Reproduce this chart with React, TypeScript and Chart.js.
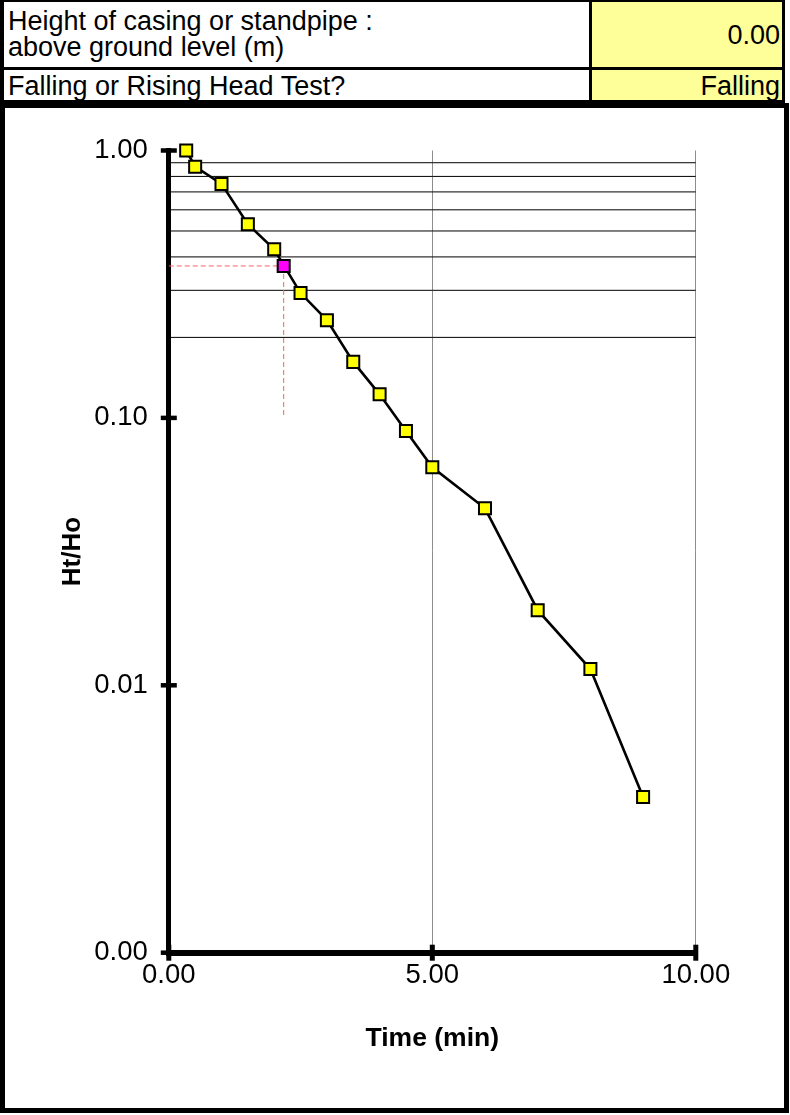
import React, { useEffect, useRef } from "react";
import { Chart, registerables } from "chart.js";

Chart.register(...registerables);

// ---- data ----
const timeMin = [0.33, 0.5, 1, 1.5, 2, 2.5, 3, 3.5, 4, 4.5, 5, 6, 7, 8, 9];
const htHo = [1.0, 0.87, 0.75, 0.53, 0.427, 0.293, 0.232, 0.162, 0.1225, 0.0893, 0.0654, 0.0459, 0.0191, 0.0115, 0.00382];
const t0Time = [2.18];
const t0Ratio = [0.37];
const dropTo = [0.1];
const refLevels = [0.9, 0.8, 0.7, 0.6, 0.5, 0.4, 0.3, 0.2];
const xTicks = [0, 5, 10];
const yTicks = [0.001, 0.01, 0.1, 1];
const xRange = [0, 10];
const yRange = [0.001, 1];
const casingLabel = ["Height of casing or standpipe :", "above ground level (m)"];
const casingValue = "0.00";
const testLabel = "Falling or Rising Head Test?";
const testValue = "Falling";
const xTitle = "Time (min)";
const yTitle = "Ht/Ho";

const FONT = "'Liberation Sans', Arial, Helvetica, sans-serif";

const crossTicks = {
  id: "crossTicks",
  afterDraw(chart: any) {
    const ctx = chart.ctx;
    const xs = chart.scales.x;
    const ys = chart.scales.y;
    const area = chart.chartArea;
    ctx.save();
    ctx.fillStyle = "#000";
    xTicks.forEach((v) => {
      const px = xs.getPixelForValue(v);
      ctx.fillRect(px - 2.5, area.bottom - 8, 5, 16);
    });
    yTicks.forEach((v) => {
      const py = ys.getPixelForValue(v);
      ctx.fillRect(area.left - 8, py - 2.25, 16, 4.5);
    });
    ctx.restore();
  },
};

export default function App() {
  const canvasRef = useRef<HTMLCanvasElement | null>(null);

  useEffect(() => {
    if (!canvasRef.current) return;
    const refSets = refLevels.map((v) => ({
      label: "ref" + v,
      data: [
        { x: xRange[0], y: v },
        { x: xRange[1], y: v },
      ],
      borderColor: "#000",
      borderWidth: 1,
      pointRadius: 0,
      showLine: true,
      fill: false,
    }));
    const chart = new Chart(canvasRef.current, {
      type: "scatter",
      data: {
        datasets: [
          {
            label: "T0",
            data: t0Time.map((x, i) => ({ x, y: t0Ratio[i] })),
            pointStyle: "rect",
            pointRadius: 8.5,
            pointBackgroundColor: "#ff00ff",
            pointBorderColor: "#000",
            pointBorderWidth: 2,
            showLine: false,
            clip: false,
          },
          {
            label: "Ht/Ho",
            data: timeMin.map((x, i) => ({ x, y: htHo[i] })),
            showLine: true,
            borderColor: "#000",
            borderWidth: 2.6,
            pointStyle: "rect",
            pointRadius: 8.5,
            pointBackgroundColor: "#ffff00",
            pointBorderColor: "#000",
            pointBorderWidth: 2,
            clip: false,
          },
          {
            label: "T0 h",
            data: [
              { x: xRange[0], y: t0Ratio[0] },
              { x: t0Time[0], y: t0Ratio[0] },
            ],
            showLine: true,
            borderColor: "#ff6060",
            borderWidth: 1,
            borderDash: [5, 3],
            pointRadius: 0,
          },
          {
            label: "T0 v",
            data: [
              { x: t0Time[0], y: t0Ratio[0] },
              { x: t0Time[0], y: dropTo[0] },
            ],
            showLine: true,
            borderColor: "#ff6060",
            borderWidth: 1,
            borderDash: [5, 3],
            pointRadius: 0,
          },
          ...refSets,
        ],
      },
      options: {
        animation: false,
        responsive: false,
        devicePixelRatio: 1,
        layout: { padding: { left: 0, top: 42.5, right: 87.2, bottom: 45.3 } },
        plugins: { legend: { display: false }, tooltip: { enabled: false } },
        scales: {
          x: {
            type: "linear",
            min: xRange[0],
            max: xRange[1],
            afterBuildTicks: (s: any) => {
              s.ticks = xTicks.map((v) => ({ value: v }));
            },
            afterFit: (s: any) => {
              s.height = 110;
            },
            grid: {
              color: (c: any) => (c.tick && c.tick.value === 0 ? "rgba(0,0,0,0)" : "#8c8c8c"),
              lineWidth: 1,
              drawTicks: false,
            },
            border: { display: true, color: "#000", width: 6 },
            ticks: {
              color: "#000",
              padding: 6,
              font: { family: FONT, size: 27.5 },
              maxRotation: 0,
              callback: (v: any) => Number(v).toFixed(2),
            },
            title: {
              display: true,
              text: xTitle,
              color: "#000",
              font: { family: FONT, size: 26.5, weight: "bold" },
              padding: { top: 0, bottom: 8 },
            },
          },
          y: {
            type: "logarithmic",
            min: yRange[0],
            max: yRange[1],
            afterBuildTicks: (s: any) => {
              s.ticks = yTicks.map((v) => ({ value: v }));
            },
            afterFit: (s: any) => {
              s.width = 163.8;
            },
            grid: { color: "rgba(0,0,0,0)", drawTicks: false },
            border: { display: true, color: "#000", width: 5 },
            ticks: {
              color: "#000",
              padding: 21,
              font: { family: FONT, size: 27.5 },
              callback: (v: any) => Number(v).toFixed(2),
            },
            title: {
              display: true,
              text: yTitle,
              color: "#000",
              font: { family: FONT, size: 26, weight: "bold" },
              padding: { top: 52, bottom: 0 },
            },
          },
        },
      },
      plugins: [crossTicks],
    } as any);
    return () => chart.destroy();
  }, []);

  const cell: React.CSSProperties = {
    position: "absolute",
    fontFamily: FONT,
    fontSize: 27,
    color: "#000",
    boxSizing: "border-box",
    whiteSpace: "nowrap",
    overflow: "hidden",
  };

  return (
    <div style={{ position: "absolute", left: 0, top: 0, width: 790, height: 1115, background: "#fff" }}>
      {/* table */}
      <div style={{ position: "absolute", left: 0, top: 0, width: 785, height: 104, background: "#000" }}>
        <div style={{ ...cell, left: 4, top: 2, width: 585, height: 65, background: "#fff", paddingLeft: 4, paddingTop: 6, lineHeight: "26px" }}>
          <div>{casingLabel[0]}</div>
          <div>{casingLabel[1]}</div>
        </div>
        <div style={{ ...cell, left: 592, top: 2, width: 190, height: 65, background: "#ffff99", paddingRight: 2, lineHeight: "67px", textAlign: "right" }}>
          {casingValue}
        </div>
        <div style={{ ...cell, left: 4, top: 70, width: 585, height: 30, background: "#fff", paddingLeft: 4, lineHeight: "32px" }}>
          {testLabel}
        </div>
        <div style={{ ...cell, left: 592, top: 70, width: 190, height: 30, background: "#ffff99", paddingRight: 2, lineHeight: "32px", textAlign: "right" }}>
          {testValue}
        </div>
      </div>
      {/* chart box */}
      <div
        style={{
          position: "absolute",
          left: 0,
          top: 103,
          width: 789,
          height: 1010,
          border: "5px solid #000",
          boxSizing: "border-box",
          background: "#fff",
        }}
      >
        <canvas ref={canvasRef} width={778} height={1000} style={{ position: "absolute", left: 0, top: 0, display: "block" }} />
      </div>
    </div>
  );
}
